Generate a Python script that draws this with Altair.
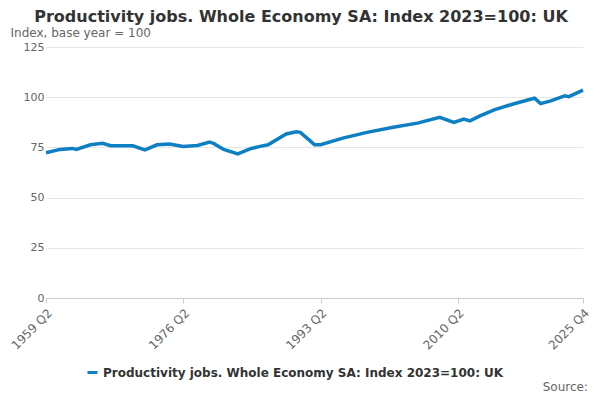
import pandas as pd
import altair as alt

# time in fractional years (quarter start)
t = [1959.25, 1961.0, 1962.5, 1963.0, 1964.75, 1966.25, 1967.25, 1970.0, 1971.5,
     1973.0, 1974.5, 1976.25, 1978.0, 1979.5, 1980.0, 1981.25, 1983.0, 1984.5,
     1985.75, 1986.75, 1989.0, 1990.25, 1990.75, 1992.0, 1992.5, 1993.25, 1996.0,
     1999.0, 2002.25, 2005.25, 2008.0, 2009.75, 2011.0, 2011.75, 2013.0, 2014.75,
     2017.0, 2019.25, 2019.75, 2020.5, 2021.75, 2023.5, 2024.0, 2025.75]
value = [72.3, 74.0, 74.5, 74.0, 76.3, 77.0, 75.8, 75.8, 73.8,
         76.3, 76.7, 75.5, 76.0, 77.6, 77.0, 74.0, 71.8, 74.3,
         75.5, 76.3, 81.7, 82.8, 82.5, 78.1, 76.3, 76.3, 79.6,
         82.5, 85.0, 87.1, 90.0, 87.4, 89.1, 88.2, 90.7, 93.7,
         96.5, 99.0, 99.5, 96.8, 98.2, 100.7, 100.3, 103.5]
tick_years = [1959.25, 1976.25, 1993.25, 2010.25, 2025.75]

series = "Productivity jobs. Whole Economy SA: Index 2023=100: UK"
df = pd.DataFrame({"t": t, "value": value, "series": series})

font = "DejaVu Sans"

line = alt.Chart(df).mark_line(strokeWidth=3.5, color="#0f7fc4").encode(
    x=alt.X("t:Q", title=None,
            scale=alt.Scale(domain=[1959.25, 2025.75], nice=False, zero=False),
            axis=alt.Axis(values=tick_years, grid=False, labelAngle=-45,
                          labelExpr="floor(datum.value) + ' Q' + (round((datum.value - floor(datum.value)) * 4) + 1)",
                          labelFontSize=12, labelColor="#666", tickColor="#ccc",
                          domainColor="#ccc", labelAlign="right", labelPadding=4,
                          labelBound=False, labelOverlap=False)),
    y=alt.Y("value:Q", title="Index, base year = 100",
            scale=alt.Scale(domain=[0, 125]),
            axis=alt.Axis(values=[0, 25, 50, 75, 100, 125], domain=False, ticks=False,
                          gridColor="#e6e6e6", labelFontSize=11, labelColor="#666",
                          titleAngle=0, titleX=-36, titleY=-8, titleAlign="left",
                          titleFontWeight="normal", titleFontSize=12, titleColor="#666")),
    color=alt.Color("series:N", scale=alt.Scale(range=["#0f7fc4"]),
                    legend=alt.Legend(title=None, orient="none", legendX=40, legendY=319,
                                      symbolType="stroke", symbolStrokeWidth=3,
                                      labelFontSize=12, labelFontWeight="bold",
                                      labelColor="#333", labelLimit=500))
)

source = alt.Chart(pd.DataFrame({"s": ["Source:"]})).mark_text(
    align="right", fontSize=12, color="#666", font=font
).encode(text="s:N", x=alt.value(542), y=alt.value(340))

title = alt.Chart(pd.DataFrame({"s": ["Productivity jobs. Whole Economy SA: Index 2023=100: UK"]})).mark_text(
    align="center", fontSize=16, fontWeight="bold", color="#333", font=font
).encode(text="s:N", x=alt.value(255), y=alt.value(-30))

chart = (line + source + title).properties(
    width=537, height=251,
    autosize=alt.AutoSizeParams(type="none"),
    padding={"left": 38, "top": 39, "right": 9, "bottom": 94},
).configure(font=font).configure_view(stroke=None)

chart.save("out.html", embed_options={"renderer": "svg", "actions": False})
